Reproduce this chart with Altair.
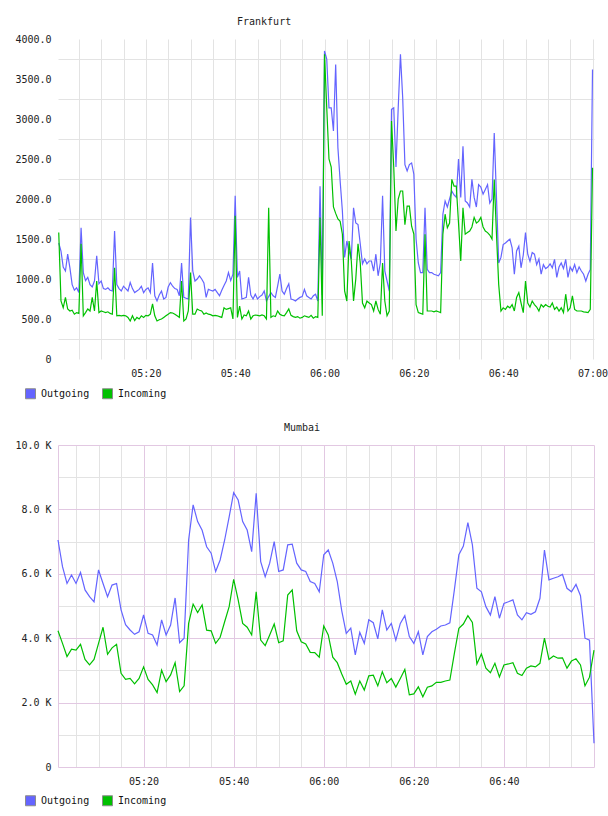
import altair as alt
import pandas as pd

FONT = "DejaVu Sans Mono"
BLUE = "#6464ff"
GREEN = "#00c000"
GRID = "#e3e3e3"
PINK = "#e2c8e2"

SERIES = ["Outgoing", "Incoming"]

# Frankfurt: samples every 30 s from 05:00:30 to 07:00:00
fra_out = [
    1450, 1350, 1150, 1100, 1310, 1140, 930, 860, 890, 830,
    1640, 1080, 980, 1020, 930, 900, 975, 1290, 940, 975,
    880, 870, 890, 860, 850, 1600, 930, 880, 850, 910,
    880, 850, 955, 880, 830, 850, 870, 910, 830, 870,
    890, 830, 1200, 790, 725, 800, 850, 750, 770, 900,
    955, 910, 880, 870, 790, 1200, 770, 760, 750, 1770,
    1100, 975, 1000, 1040, 1000, 950, 770, 870, 860, 850,
    870, 830, 790, 860, 920, 975, 1080, 980, 1060, 2040,
    1020, 1100, 750, 760, 770, 1020, 800, 750, 810, 750,
    780, 800, 850, 725, 780, 830, 790, 770, 910, 1060,
    850, 810, 880, 940, 750, 740, 725, 750, 770, 780,
    870, 790, 770, 750, 790, 810, 725, 2160, 800, 3850,
    3750, 3140, 3140, 2850, 3680, 2640, 2225, 1850, 1270, 1475,
    1350, 1250, 1890, 1700, 1680, 1440, 1190, 1250, 1190, 1225,
    1225, 1100, 1310, 1040, 1200, 2040, 1100, 975, 850, 3120,
    3140, 2400, 3140, 3810, 3270, 2430, 2350, 2430, 2450, 2310,
    1500, 1200, 1080, 1080, 1890, 1120, 1080, 1080, 1060, 1050,
    1040, 1080, 1810, 1975, 1900, 2000, 2100, 2050, 2020, 2500,
    2020, 2660, 1975, 1950, 1900, 2245, 2020, 1900, 2180, 2150,
    2060, 2120, 2180, 1950, 2000, 2825, 2020, 1200, 1270, 1430,
    1450, 1475, 1500, 1390, 1060, 1350, 1410, 1140, 1300, 1580,
    1310, 1220, 1330, 1310, 1180, 1250, 1060, 1180, 1130, 1150,
    1190, 1140, 1245, 1020, 1150, 1200, 1130, 1245, 1020, 1150,
    1100, 1180, 1080, 1150, 1100, 1060, 975, 1060, 1120, 3620,
]
fra_in = [
    1580, 725, 640, 770, 625, 600, 610, 560, 580, 570,
    1440, 540, 580, 625, 600, 770, 600, 975, 580, 600,
    590, 580, 590, 570, 560, 1140, 540, 545, 540, 545,
    540, 520, 475, 540, 480, 520, 500, 540, 520, 545,
    540, 560, 690, 540, 475, 490, 500, 520, 540, 560,
    580, 575, 560, 540, 520, 975, 475, 500, 600, 1080,
    560, 560, 625, 610, 600, 560, 575, 560, 555, 540,
    545, 540, 530, 520, 640, 620, 630, 640, 500, 1790,
    520, 660, 500, 550, 540, 600, 500, 540, 550, 545,
    540, 550, 540, 500, 1890, 520, 540, 530, 600, 560,
    545, 540, 580, 625, 545, 530, 520, 530, 510, 520,
    540, 530, 520, 545, 510, 530, 520, 1770, 540, 3810,
    3140, 2500, 2400, 1900, 1820, 1750, 1720, 1560, 850, 725,
    1475, 1225, 725, 1000, 1440, 1200, 700, 640, 725, 700,
    680, 600, 725, 620, 560, 1200, 725, 540, 600, 2975,
    2400, 1600, 2000, 2100, 2100, 1680, 1910, 1910, 1660, 1560,
    680, 580, 570, 560, 1560, 600, 600, 600, 590, 600,
    590, 580, 1560, 1810, 1640, 1700, 2245, 2160, 2160, 1700,
    1225, 1890, 1560, 1580, 1600, 1650, 1770, 1700, 1720, 1770,
    1650, 1600, 1580, 1550, 1500, 2245, 1560, 930, 600, 640,
    620, 660, 640, 680, 600, 770, 830, 700, 580, 975,
    700, 650, 725, 680, 650, 600, 680, 650, 680, 660,
    650, 700, 620, 650, 600, 640, 580, 810, 600, 640,
    790, 620, 600, 600, 600, 590, 585, 580, 620, 2390,
]

# Mumbai: samples every minute from 05:01 to 07:00
mum_out = [
    7050, 6220, 5700, 5960, 5700, 6040, 5500, 5290, 5130, 6120,
    5700, 5290, 5650, 5700, 4880, 4420, 4255, 4120, 4200, 4720,
    4150, 4100, 3790, 4570, 4100, 4410, 5250, 3860, 4000, 7050,
    8140, 7620, 7350, 6840, 6640, 6070, 6430, 7050, 7770, 8520,
    8290, 7620, 7360, 6690, 8500, 6380, 5910, 6330, 7000, 6070,
    6120, 6900, 6920, 6330, 6120, 6070, 5760, 5700, 5440, 6590,
    6740, 6330, 5760, 4850, 4150, 4310, 3480, 4180, 3840, 4570,
    4480, 3980, 4880, 4255, 4460, 3940, 4460, 4700, 4050, 3840,
    4200, 3480, 4050, 4200, 4280, 4380, 4410, 4480, 5500, 6590,
    6860, 7590, 6900, 5550, 5440, 4980, 4720, 5290, 4620, 5080,
    5130, 5190, 4720, 4570, 4790, 4740, 4820, 5240, 6740, 5810,
    5860, 5910, 5980, 5550, 5440, 5670, 5320, 4000, 3940, 740,
]
mum_in = [
    4230, 3840, 3430, 3660, 3630, 3810, 3340, 3170, 3340, 3840,
    4340, 3500, 3700, 3810, 2910, 2720, 2750, 2580, 2750, 3110,
    2720, 2550, 2310, 3010, 2650, 2860, 3240, 2340, 2520, 4460,
    5060, 4800, 5030, 4250, 4230, 3840, 4030, 4510, 4980, 5830,
    5190, 4460, 4340, 4100, 5440, 3940, 3770, 4100, 4440, 3860,
    3920, 5340, 5500, 4230, 3890, 3820, 3560, 3550, 3410, 4380,
    4100, 3410, 3240, 2890, 2570, 2670, 2260, 2670, 2390, 2830,
    2850, 2520, 2960, 2620, 2750, 2480, 2750, 3030, 2240, 2270,
    2490, 2180, 2480, 2520, 2630, 2630, 2670, 2700, 3530, 4310,
    4440, 4700, 4490, 3200, 3510, 3070, 2930, 3220, 2800, 3170,
    3200, 3240, 2910, 2840, 3070, 3140, 3110, 3220, 4000, 3340,
    3450, 3380, 3390, 3070, 3290, 3360, 3170, 2520, 2790, 3630,
]

base = pd.Timestamp("2024-01-01 05:00:00")


def stamps(step_s, offset_s, n):
    return [(base + pd.Timedelta(seconds=offset_s + step_s * i)).strftime("%Y-%m-%dT%H:%M:%S")
            for i in range(n)]


def frame(out, inc, times):
    return pd.DataFrame({
        "time": times + times,
        "value": out + inc,
        "series": ["Outgoing"] * len(out) + ["Incoming"] * len(inc),
    })


fra_df = frame(fra_out, fra_in, stamps(30, 30, len(fra_out)))
mum_df = frame(mum_out, mum_in, stamps(60, 60, len(mum_out)))


def dt(h, m, s=0):
    return alt.DateTime(year=2024, month=1, date=1, hours=h, minutes=m, seconds=s)


five_min = [dt(5 + (m // 60), m % 60) for m in range(5, 121, 5)]


def panel(df, title, dx, x_dom, x_axis, y_scale, y_axis, height, legend_y):
    x = alt.X("time:T", scale=alt.Scale(domain=x_dom), axis=x_axis)
    y = alt.Y("value:Q", scale=y_scale, axis=y_axis)
    # data-driven domain (sorted) so this scale is not merged with the legend's scale
    lines = alt.Chart(df).mark_line(strokeWidth=1.2, interpolate="linear").encode(
        x=x, y=y,
        stroke=alt.Stroke("series:N", sort=SERIES, scale=alt.Scale(range=[BLUE, GREEN]),
                          legend=None),
    )
    lg = alt.Legend(
        title=None, orient="none", direction="horizontal", legendX=-33, legendY=legend_y,
        symbolType="square", symbolSize=100, symbolStrokeColor="#8c8c8c",
        symbolStrokeWidth=1, symbolOpacity=1, labelFont=FONT, labelFontSize=10,
        labelColor="#111", labelOffset=5, columnPadding=10, padding=0,
    )
    swatches = alt.Chart(df).transform_filter("false").mark_square(
        size=100, filled=True, opacity=1, stroke="#8c8c8c", strokeWidth=1
    ).encode(
        x=x, y=y,
        fill=alt.Fill("series:N", scale=alt.Scale(domain=SERIES, range=[BLUE, GREEN]),
                      legend=lg),
    )
    return alt.layer(lines, swatches).properties(
        width=536, height=height,
        title=alt.TitleParams(title, anchor="start", frame="group", dx=dx, offset=7,
                              font=FONT, fontSize=10, fontWeight="normal", color="#222"),
    )


common_axis = dict(ticks=False, domain=False, labelFont=FONT, labelFontSize=10,
                   labelColor="#222", labelOverlap=False, title=None)

fra_x_axis = alt.Axis(
    values=five_min,
    labelExpr="minutes(datum.value) % 20 == 0 ? timeFormat(datum.value, '%H:%M') : ''",
    grid=True, gridColor=GRID, labelPadding=9, labelFlush=False, labelAngle=0, **common_axis)
fra_y_axis = alt.Axis(
    values=list(range(0, 4001, 250)),
    labelExpr="datum.value % 500 == 0 ? (datum.value == 0 ? '0' : format(datum.value, '.1f')) : ''",
    grid=True, gridColor=GRID,
    gridOpacity={"condition": {"test": "datum.value % 500 == 250", "value": 1}, "value": 0},
    labelPadding=7, minExtent=43, **common_axis)

mum_x_axis = alt.Axis(
    values=five_min,
    labelExpr="(minutes(datum.value) % 20 == 0 && hours(datum.value) < 7) ? timeFormat(datum.value, '%H:%M') : ''",
    grid=True,
    gridColor={"condition": {"test": "minutes(datum.value) % 20 == 0", "value": PINK}, "value": GRID},
    labelPadding=9, labelFlush=False, labelAngle=0, **common_axis)
mum_axis_common = dict(common_axis)
mum_axis_common["domain"] = True
mum_y_axis = alt.Axis(
    values=list(range(0, 10001, 1000)),
    labelExpr="datum.value % 2000 == 0 ? (datum.value == 0 ? '0' : format(datum.value / 1000, '.1f') + ' K') : ''",
    grid=True,
    gridColor={"condition": {"test": "datum.value % 2000 == 0", "value": PINK}, "value": GRID},
    domainColor=PINK, labelPadding=7, minExtent=43, **mum_axis_common)

frankfurt = panel(fra_df, "Frankfurt", 179, [dt(5, 0, 20), dt(7, 0, 20)], fra_x_axis,
                  alt.Scale(domain=[0, 4000], nice=False), fra_y_axis, 320, 349)
mumbai = panel(mum_df, "Mumbai", 226, [dt(5, 1), dt(7, 0)], mum_x_axis,
               alt.Scale(domain=[0, 10000], nice=False), mum_y_axis, 322, 350)

chart = alt.vconcat(frankfurt, mumbai, spacing=22).resolve_scale(
    stroke="independent", fill="independent"
).properties(
    padding={"left": 14, "top": 17, "right": 0, "bottom": 0},
    background="white",
).configure_view(stroke=None)

chart.save("out.html", embed_options={"renderer": "svg", "actions": False})
